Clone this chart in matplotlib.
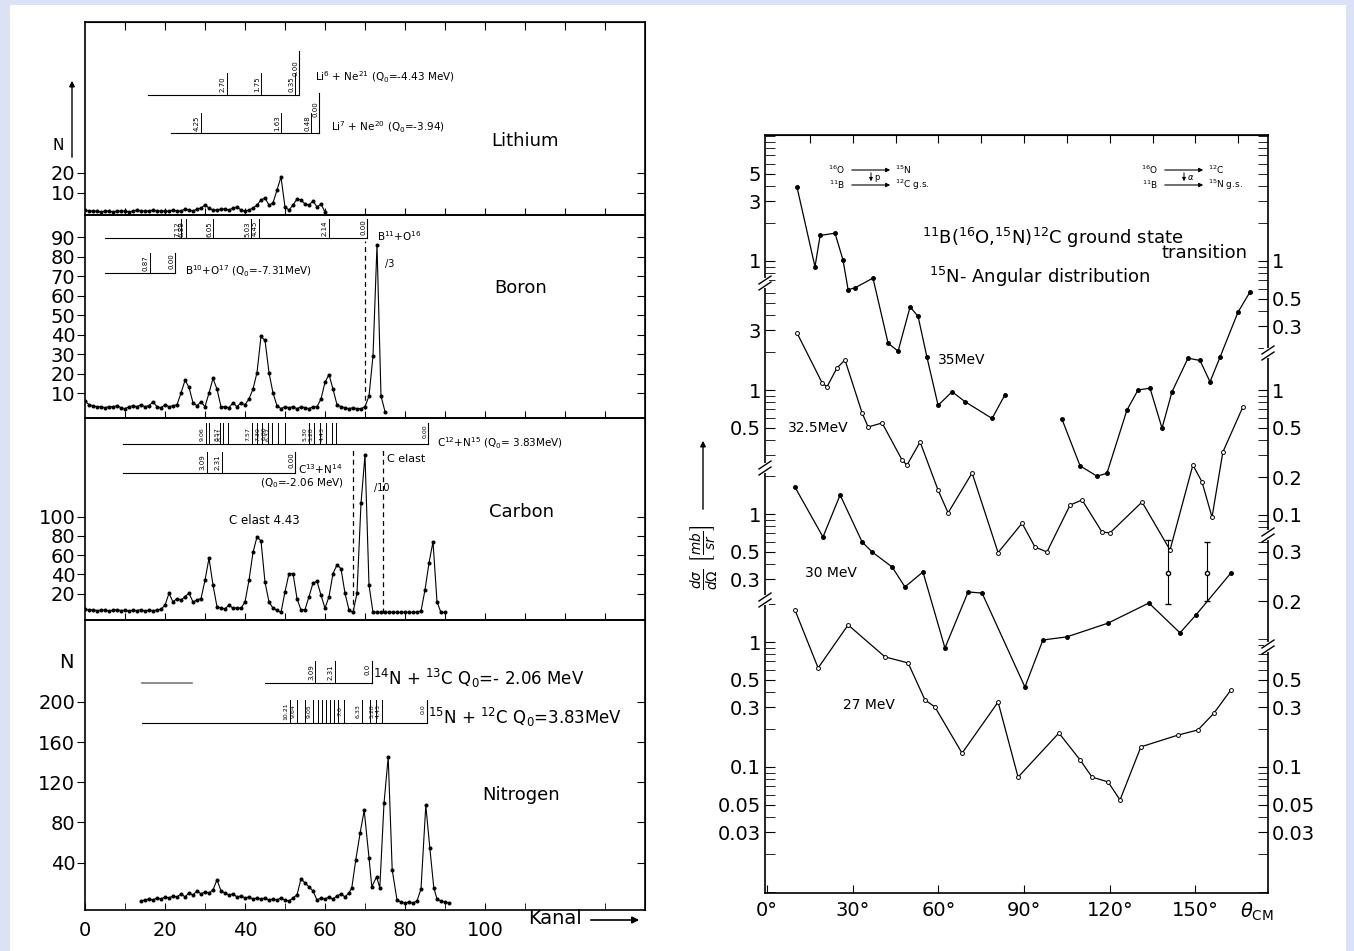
import numpy as np
import matplotlib
matplotlib.use('Agg')
import matplotlib.pyplot as plt
from matplotlib.lines import Line2D
from matplotlib.patches import Rectangle
from matplotlib.ticker import FixedLocator, FixedFormatter, NullFormatter

# ---------------- data: spectra (channel, counts) ----------------
li_ch = list(range(0, 61))
li_n = [1.5, 1, 1, 1, 0.5, 1, 1, 0.5, 1, 1,
        1, 0.5, 1, 1.5, 1, 1, 1, 1.5, 1, 1,
        1, 1, 1.5, 1, 1, 2, 1.5, 1, 2, 2.5,
        4, 2.5, 1.5, 1.5, 2, 2, 1.5, 2.5, 3, 1.5,
        1, 1.5, 2.5, 4, 6.5, 7.5, 4, 5, 11.5, 18,
        3, 1.5, 4, 7, 6.5, 4.5, 4, 6, 3, 4.5, 0.5]

bo_ch = list(range(0, 76))
bo_n = [6, 4, 3.5, 3, 3, 2.5, 3, 3, 3.5, 2.5,
        2, 3, 3.5, 3, 4, 3, 3.5, 5.5, 3, 2.5,
        4, 3, 3.5, 4, 10, 16.5, 13, 5, 3.5, 5.5,
        3, 10, 17.5, 12, 3, 3, 2.5, 5, 3, 5,
        4, 7, 12, 20.5, 39, 37, 20.5, 10, 3.5, 2,
        3, 2.5, 3, 2, 3, 2.5, 2, 3, 3, 7,
        15.5, 19.5, 12, 4, 3, 2.5, 2, 2.5, 2, 2,
        3, 8.5, 29, 86, 8.5, 0.5]

ca_ch = list(range(0, 91))
ca_n = [4, 3, 3.5, 2.5, 3, 3, 2, 3, 3.5, 2.5,
        3, 2, 3, 2.5, 3.5, 2, 3, 2.5, 3, 4,
        8, 20.5, 11.5, 15, 13.5, 17, 20.5, 11.5, 13.5, 15,
        34, 57, 29, 6.5, 5, 4.5, 8, 5, 5.5, 5,
        11.5, 34, 63, 79, 75, 32, 11.5, 5, 3, 0.5,
        22, 41, 41, 15, 3, 3.5, 17, 31, 33, 18.5,
        5, 17, 41, 50, 46, 20.5, 3, 0.5, 20.5, 114,
        164, 29, 0.5, 1, 0.5, 1, 0.5, 1, 0.5, 0.5,
        1, 0.5, 0.5, 1, 2, 24, 52, 74, 11.5, 0.5, 0.5]

ni_ch = list(range(14, 67)) + [66.7, 67.7, 68.8, 69.8, 71.0, 71.7, 72.9, 73.7, 74.75, 75.8,
                               76.8, 78, 79, 80, 81, 82, 83, 84, 85.2, 86.2, 87.2, 88, 89, 90, 91]
ni_n = [2, 3, 4, 3, 5, 4, 6, 5, 7, 6,
        9, 6, 10, 8, 12, 9, 11, 10, 13, 23,
        12, 10, 8, 9, 6, 7, 5, 6, 4, 5,
        4, 5, 3, 4, 3, 5, 3, 2, 5, 8,
        24, 20, 16, 12, 3, 5, 4, 6, 4, 7,
        9, 6, 10,
        15, 43, 70, 92, 45, 16, 26, 15, 99, 145,
        33, 3, 1, 0, 1, 0, 2, 14, 97, 55, 15, 4, 2, 1, 0]

# level schemes: channel of each line, excitation label
li6_ch = [35.5, 44, 52.5]
li6_lab = ['2.70', '1.75', '0.35']
li7_ch = [29, 49, 56.5]
li7_lab = ['4.25', '1.63', '0.48']
b11_ch = [24, 25.2, 32, 41.5, 43.5, 61]
b11_lab = ['7.12', '6.89', '6.05', '5.03', '4.45', '2.14']
b10_ch = [16.2]
b10_lab = ['0.87']
c12_ch = [30.2, 31, 33.8, 34.6, 35.7, 41.7, 42.9, 44.2, 45.7, 46.7, 48.3, 50, 56, 57.3, 58.8, 60.2, 61.8, 62.7]
c12_lab = ['9.06', '', '8.57', '8.31', '', '7.57', '', '7.30', '6.86', '6.32', '', '', '5.30', '5.28', '', '4.43', '', '']
c13_ch = [30.4, 34.2]
c13_lab = ['3.09', '2.31']
n14_ch = [57.5, 62.5]
n14_lab = ['3.09', '2.31']
n15_ch = [51.2, 53, 55, 57, 58.2, 59.2, 60.2, 61.2, 62.2, 63.2, 64.7, 69.2, 71.2, 72.7, 74.2]
n15_lab = ['10.21', '9.64', '', '9.05', '', '', '', '', '', '', '7.6', '6.33', '', '5.28', '4.43']

# ---------------- data: angular distributions (deg, mb/sr) ----------------
ang35 = [10.5, 16.8, 18.6, 23.8, 26.6, 28.4, 30.8, 37.1, 42.4, 45.9, 50.1, 52.9, 56.0, 59.9, 64.8, 69.3, 78.8, 83.3]
val35 = [3.9, 0.9, 1.6, 1.67, 1.02, 0.59, 0.61, 0.73, 0.22, 0.19, 0.43, 0.36, 0.17, 0.07, 0.09, 0.075, 0.055, 0.085]
ang35b = [103.3, 109.6, 115.5, 119.0, 126.0, 129.9, 134.1, 138.3, 141.8, 147.4, 151.6, 155.1, 158.6, 164.9, 169.1]
val35b = [0.054, 0.023, 0.019, 0.020, 0.064, 0.093, 0.096, 0.046, 0.09, 0.167, 0.16, 0.108, 0.17, 0.39, 0.565]
ang325 = [10.5, 19.3, 21.0, 24.5, 27.3, 33.3, 35.4, 40.3, 47.3, 49.0, 53.6, 59.9, 63.4, 71.8, 80.9,
          89.3, 93.8, 98.0, 106.1, 110.3, 117.3, 120.1, 131.3, 141.1, 149.1, 152.3, 155.8, 159.6, 166.6]
val325 = [2.86, 1.14, 1.06, 1.5, 1.74, 0.655, 0.506, 0.545, 0.275, 0.251, 0.384, 0.158, 0.104, 0.217, 0.05,
          0.086, 0.0555, 0.0506, 0.12, 0.132, 0.073, 0.072, 0.127, 0.0525, 0.251, 0.184, 0.096, 0.319, 0.731]
ang30 = [9.8, 19.6, 25.6, 33.3, 36.8, 43.8, 48.3, 54.6, 62.3, 70.4, 75.3, 90.3, 96.6, 105.0, 119.4, 133.7, 144.6, 150.2, 162.4]
val30 = [1.64, 0.655, 1.42, 0.597, 0.497, 0.377, 0.261, 0.344, 0.0847, 0.238, 0.233, 0.0413, 0.0982, 0.104, 0.134, 0.194, 0.112, 0.156, 0.337]
iso30_ang = [140.4, 154.0]
iso30_val = [0.34, 0.34]
iso30_lo = [0.19, 0.20]
iso30_hi = [0.62, 0.60]
ang27 = [9.8, 17.9, 28.4, 41.3, 49.4, 55.3, 58.8, 68.3, 80.9, 87.9, 102.2, 109.6, 113.8, 119.4, 123.6, 130.9, 143.9, 150.9, 156.5, 162.4]
val27 = [1.8, 0.62, 1.37, 0.76, 0.68, 0.344, 0.302, 0.129, 0.331, 0.083, 0.187, 0.114, 0.083, 0.076, 0.0545, 0.145, 0.18, 0.198, 0.27, 0.413]

W, H = 1354, 951


def fx(x):
    return x / W


def fy(y):
    return 1 - y / H


def box(x0, y0, x1, y1):
    return [fx(x0), fy(y1), (x1 - x0) / W, (y1 - y0) / H]


fig = plt.figure(figsize=(13.54, 9.51), dpi=100, facecolor='#dce2f6')
fig.add_artist(Rectangle((fx(10), 0), fx(1346) - fx(10), fy(5), facecolor='white', edgecolor='none', zorder=-10))


def spec_axes(rect, ylim, yticks):
    ax = fig.add_axes(rect)
    ax.set_facecolor('none')
    ax.set_xlim(0, 140)
    ax.set_ylim(*ylim)
    ax.set_yticks(yticks)
    ax.set_xticks(np.arange(10, 140, 10))
    ax.tick_params(axis='x', direction='in', length=5, labelbottom=False)
    ax.tick_params(axis='y', direction='out', length=6, labelsize=14, pad=1)
    sec = ax.secondary_yaxis('right')
    sec.set_yticks(yticks)
    sec.tick_params(direction='in', length=6, labelright=False)
    for s in ax.spines.values():
        s.set_linewidth(1.2)
    return ax


def draw_spec(ax, ch, n):
    ax.plot(ch, n, '-', color='k', lw=0.8)
    ax.plot(ch, n, 'o', color='k', ms=1.9)


def levels(ax, y0, x0, x1, chans, labs, top, end_top, end_lab='0.00', fs=5):
    ax.plot([x0, x1], [y0, y0], color='k', lw=0.8)
    for c, lab in zip(chans, labs):
        ax.plot([c, c], [y0, top], color='k', lw=0.7)
        ax.text(c - 0.25, (y0 + top) / 2, lab, rotation=90, ha='right', va='center', fontsize=fs)
    ax.plot([x1, x1], [y0, end_top], color='k', lw=0.8)
    ax.text(x1 - 0.25, (y0 + end_top) / 2 + (end_top - y0) * 0.1, end_lab, rotation=90,
            ha='right', va='center', fontsize=fs)


# ---- Lithium ----
ax_li = spec_axes(box(85, 22, 645, 215), (-1, 95.5), [10, 20])
top = ax_li.secondary_xaxis('top')
top.set_xticks(np.arange(10, 140, 10))
top.tick_params(direction='in', length=6, labeltop=False)
draw_spec(ax_li, li_ch, li_n)
levels(ax_li, 59, 15.7, 53.5, li6_ch, li6_lab, 70, 81)
ax_li.text(57.5, 68, r'Li$^6$ + Ne$^{21}$ (Q$_0$=-4.43 MeV)', fontsize=7.5, va='center')
levels(ax_li, 40, 21.5, 58.5, li7_ch, li7_lab, 50, 60)
ax_li.text(61.5, 43, r'Li$^7$ + Ne$^{20}$ (Q$_0$=-3.94)', fontsize=7.5, va='center')
ax_li.text(110, 36, 'Lithium', fontsize=13, ha='center', va='center')

# ---- Boron ----
ax_bo = spec_axes(box(85, 215, 645, 418), (-2.8, 101.3), list(range(10, 100, 10)))
draw_spec(ax_bo, bo_ch, bo_n)
ax_bo.plot([70, 70], [2, 88], ls=(0, (4, 3)), color='k', lw=0.9)
levels(ax_bo, 89.5, 5, 70.5, b11_ch, b11_lab, 99, 99)
ax_bo.text(73, 90.5, r'B$^{11}$+O$^{16}$', fontsize=7.5, va='center')
levels(ax_bo, 71.5, 5, 22.5, b10_ch, b10_lab, 82, 82)
ax_bo.text(25, 72.5, r'B$^{10}$+O$^{17}$ (Q$_0$=-7.31MeV)', fontsize=7.5, va='center')
ax_bo.text(75, 76, '/3', fontsize=7, va='center')
ax_bo.text(108.8, 64, 'Boron', fontsize=13, ha='center', va='center')

# ---- Carbon ----
ax_ca = spec_axes(box(85, 418, 645, 620), (-7.3, 202.6), [20, 40, 60, 80, 100])
draw_spec(ax_ca, ca_ch, ca_n)
for c in [67, 74.6]:
    ax_ca.plot([c, c], [0, 170], ls=(0, (4, 3)), color='k', lw=0.9)
levels(ax_ca, 175.6, 9.5, 85.8, c12_ch, c12_lab, 197, 197, fs=4.5)
ax_ca.text(88, 176.5, r'C$^{12}$+N$^{15}$ (Q$_0$= 3.83MeV)', fontsize=7.5, va='center')
levels(ax_ca, 145.5, 9.5, 52.5, c13_ch, c13_lab, 167, 167)
ax_ca.text(53.3, 149, r'C$^{13}$+N$^{14}$', fontsize=7.5, va='center')
ax_ca.text(43.8, 135, r'(Q$_0$=-2.06 MeV)', fontsize=7.5, va='center')
ax_ca.text(75.6, 160, 'C elast', fontsize=8, va='center')
ax_ca.text(72.3, 130, '/10', fontsize=7, va='center')
ax_ca.text(36, 96, 'C elast 4.43', fontsize=8.5, va='center')
ax_ca.text(109, 105, 'Carbon', fontsize=13, ha='center', va='center')

# ---- Nitrogen ----
ax_ni = spec_axes(box(85, 620, 645, 910), (-7, 281.3), [40, 80, 120, 160, 200])
ax_ni.set_xticks([0, 20, 40, 60, 80, 100])
ax_ni.set_xticks(np.arange(10, 140, 20), minor=True)
ax_ni.tick_params(axis='x', which='both', direction='in', length=5, labelbottom=True, labelsize=14, pad=8)
draw_spec(ax_ni, ni_ch, ni_n)
ax_ni.plot([14.25, 26.75], [218.7, 218.7], color='#777777', lw=1.2)
levels(ax_ni, 218.7, 45, 71.75, n14_ch, n14_lab, 241, 241, end_lab='0.0')
ax_ni.text(71.9, 223, r'$^{14}$N + $^{13}$C Q$_0$=- 2.06 MeV', fontsize=12, va='center')
levels(ax_ni, 179, 14.25, 85.5, n15_ch, n15_lab, 202, 202, end_lab='0.0', fs=4.5)
ax_ni.text(85.8, 184, r'$^{15}$N + $^{12}$C Q$_0$=3.83MeV', fontsize=12, va='center')
ax_ni.text(109, 107, 'Nitrogen', fontsize=13, ha='center', va='center')

fig.text(fx(66), fy(663), 'N', fontsize=14, ha='center', va='center')
fig.text(fx(58), fy(145), 'N', fontsize=11, ha='center', va='center')
ax_ni.annotate('', xy=(fx(72), fy(78)), xytext=(fx(72), fy(160)), xycoords='figure fraction',
               arrowprops=dict(arrowstyle='-|>', color='k', lw=1, mutation_scale=8))
fig.text(fx(555), fy(918), 'Kanal', fontsize=14, ha='center', va='center')
ax_ni.annotate('', xy=(fx(642), fy(920)), xytext=(fx(588), fy(920)), xycoords='figure fraction',
               arrowprops=dict(arrowstyle='-|>', color='k', lw=1.2, mutation_scale=10))

# ---------------- right panel ----------------
rrect = box(765, 135, 1268, 893)
rax = fig.add_axes(rrect)
rax.set_xlim(-0.7, 175.4)
rax.set_ylim(0, 1)
rax.set_yticks([])
rax.set_xticks([0, 30, 60, 90, 120, 150])
rax.set_xticklabels(['0°', '30°', '60°', '90°', '120°', '150°'])
rax.tick_params(axis='x', direction='in', length=6, labelsize=14, pad=6)
rtop = rax.secondary_xaxis('top')
rtop.set_xticks(np.arange(15, 175, 15))
rtop.tick_params(direction='in', length=6, labeltop=False)
for s in rax.spines.values():
    s.set_linewidth(1.2)

PPD = 125.0  # pixels per decade
energies = [
    dict(y1=261, left=(135, 281), right=(135, 350), ml=[5, 3, 1], tl=['5', '3', '1'],
         mr=[1, 0.5, 0.3], tr=['1', '0.5', '0.3']),
    dict(y1=390, left=(287, 466), right=(356, 533), ml=[3, 1, 0.5], tl=['3', '1', '0.5'],
         mr=[1, 0.5, 0.2, 0.1], tr=['1', '0.5', '0.2', '0.1']),
    dict(y1=514, left=(470, 598), right=(538, 645), ml=[1, 0.5, 0.3], tl=['1', '0.5', '0.3'],
         mr=[0.5, 0.2], tr=['0.3', '0.2']),
    dict(y1=642, left=(602, 893), right=(650, 893), ml=[1, 0.5, 0.3, 0.1, 0.05, 0.03],
         tl=['1', '0.5', '0.3', '0.1', '0.05', '0.03'],
         mr=[0.5, 0.3, 0.1, 0.05, 0.03], tr=['0.5', '0.3', '0.1', '0.05', '0.03']),
]


def logticks(lo, hi):
    out = []
    for d in range(-3, 3):
        for m in range(1, 10):
            v = m * 10.0 ** d
            if lo <= v <= hi:
                out.append(v)
    return out


eaxes = []
for e in energies:
    lims = (10 ** ((e['y1'] - 893) / PPD), 10 ** ((e['y1'] - 135) / PPD))
    pair = []
    for side in ('left', 'right'):
        a = fig.add_axes(rrect)
        a.set_facecolor('none')
        a.set_xlim(-0.7, 175.4)
        a.set_yscale('log')
        a.set_ylim(*lims)
        a.xaxis.set_visible(False)
        for s in a.spines.values():
            s.set_visible(False)
        ytop, ybot = e[side]
        lo = 10 ** ((e['y1'] - ybot) / PPD)
        hi = 10 ** ((e['y1'] - ytop) / PPD)
        maj = e['ml'] if side == 'left' else e['mr']
        txt = e['tl'] if side == 'left' else e['tr']
        a.yaxis.set_major_locator(FixedLocator(maj))
        a.yaxis.set_major_formatter(FixedFormatter(txt))
        a.yaxis.set_minor_locator(FixedLocator(logticks(lo, hi)))
        a.yaxis.set_minor_formatter(NullFormatter())
        if side == 'left':
            a.tick_params(axis='y', which='both', direction='in', left=True, right=False,
                          labelleft=True, labelright=False, length=7, labelsize=14, pad=3)
        else:
            a.yaxis.set_ticks_position('right')
            a.tick_params(axis='y', which='both', direction='in', left=False, right=True,
                          labelleft=False, labelright=True, length=7, labelsize=14, pad=3)
        pair.append(a)
    eaxes.append(pair[0])

a35, a325, a30, a27 = eaxes
for a, ang, val, mfc in [(a35, ang35, val35, 'k'), (a35, ang35b, val35b, 'k'),
                         (a325, ang325, val325, 'white'), (a30, ang30, val30, 'k'),
                         (a27, ang27, val27, 'white')]:
    a.plot(ang, val, '-', color='k', lw=0.9)
    a.plot(ang, val, 'o', ms=2.8, mfc=mfc, mec='k', mew=0.7)
a30.errorbar(iso30_ang, iso30_val,
             yerr=[np.array(iso30_val) - np.array(iso30_lo), np.array(iso30_hi) - np.array(iso30_val)],
             fmt='o', ms=3, mfc='white', mec='k', ecolor='k', elinewidth=0.8, capsize=2)

# axis breaks
for bx, by in [(765, 283), (765, 468), (765, 600), (1268, 353), (1268, 535), (1268, 647)]:
    fig.add_artist(Rectangle((fx(bx - 4), fy(by + 5)), 8 / W, 10 / H, facecolor='white',
                             edgecolor='none', zorder=5))
    for dy in (-3, 3):
        fig.add_artist(Line2D([fx(bx - 6), fx(bx + 6)], [fy(by + dy + 4), fy(by + dy - 4)],
                              color='k', lw=1, zorder=6))

# texts in right panel
fig.text(fx(922), fy(238), r'$^{11}$B($^{16}$O,$^{15}$N)$^{12}$C ground state', fontsize=13, va='center')
fig.text(fx(1248), fy(253), 'transition', fontsize=13, va='center', ha='right')
fig.text(fx(929), fy(277), r'$^{15}$N- Angular distribution', fontsize=13, va='center')
fig.text(fx(938), fy(360), '35MeV', fontsize=10, va='center')
fig.text(fx(788), fy(428), '32.5MeV', fontsize=10, va='center')
fig.text(fx(805), fy(573), '30 MeV', fontsize=10, va='center')
fig.text(fx(843), fy(705), '27 MeV', fontsize=10, va='center')
fig.text(fx(1240), fy(912), r'$\theta_{\rm CM}$', fontsize=14, va='center')


def reaction(x0, yt, a1, b1, a2, b2, mid):
    for yy, a, b in [(yt, a1, b1), (yt + 15, a2, b2)]:
        fig.text(fx(x0), fy(yy), a, fontsize=6.5, va='center', ha='right')
        rax.annotate('', xy=(fx(x0 + 48), fy(yy)), xytext=(fx(x0 + 4), fy(yy)), xycoords='figure fraction',
                     arrowprops=dict(arrowstyle='-|>', color='k', lw=0.8, mutation_scale=6))
        fig.text(fx(x0 + 50), fy(yy), b, fontsize=6.5, va='center')
    rax.annotate('', xy=(fx(x0 + 26), fy(yt + 14)), xytext=(fx(x0 + 26), fy(yt)), xycoords='figure fraction',
                 arrowprops=dict(arrowstyle='-|>', color='k', lw=0.7, mutation_scale=5))
    fig.text(fx(x0 + 29), fy(yt + 7), mid, fontsize=6, va='center')


reaction(845, 170, r'$^{16}$O', r'$^{15}$N', r'$^{11}$B', r'$^{12}$C g.s.', 'p')
reaction(1158, 170, r'$^{16}$O', r'$^{12}$C', r'$^{11}$B', r'$^{15}$N g.s.', r'$\alpha$')

# y label of right panel
fig.text(fx(704), fy(557), r'$\frac{d\sigma}{d\Omega}\ \left[\frac{mb}{sr}\right]$', rotation=90,
         fontsize=14, ha='center', va='center')
rax.annotate('', xy=(fx(703), fy(438)), xytext=(fx(703), fy(512)), xycoords='figure fraction',
             arrowprops=dict(arrowstyle='-|>', color='k', lw=1, mutation_scale=8))

fig.savefig('out.png', dpi=100, facecolor=fig.get_facecolor())
